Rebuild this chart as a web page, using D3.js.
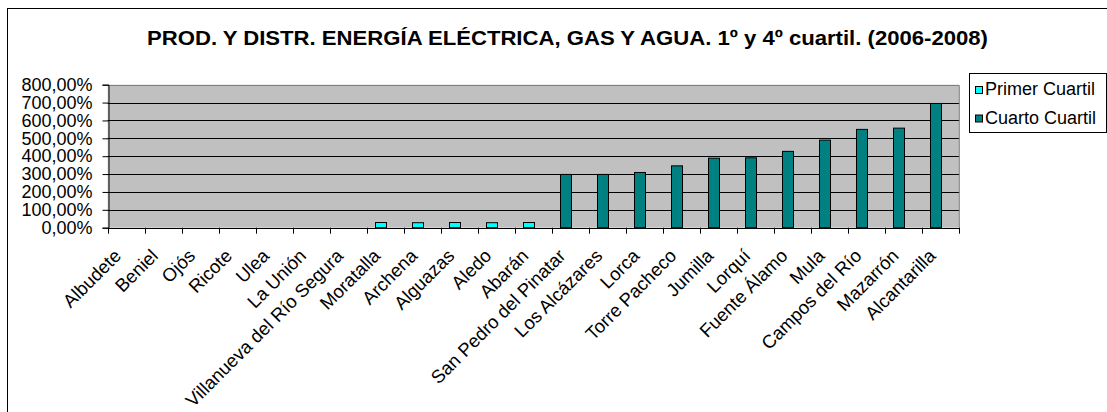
<!DOCTYPE html>
<html>
<head>
<meta charset="utf-8">
<script src="https://cdn.jsdelivr.net/npm/d3@7"></script>
<style>
  body { margin: 0; background: #fff; }
  text { font-family: "Liberation Sans", Arial, sans-serif; fill: #000; }
</style>
</head>
<body>
<script>
// chart data
const categories = ['Albudete', 'Beniel', 'Ojós', 'Ricote', 'Ulea', 'La Unión',
  'Villanueva del Río Segura', 'Moratalla', 'Archena', 'Alguazas', 'Aledo', 'Abarán',
  'San Pedro del Pinatar', 'Los Alcázares', 'Lorca', 'Torre Pacheco', 'Jumilla',
  'Lorquí', 'Fuente Álamo', 'Mula', 'Campos del Río', 'Mazarrón', 'Alcantarilla'];
const seriesNames = ['Primer Cuartil', 'Cuarto Cuartil'];
const primerCuartil = [null, null, null, null, null, null, null,
  0.29, 0.28, 0.29, 0.28, 0.29,
  null, null, null, null, null, null, null, null, null, null, null];
const cuartoCuartil = [null, null, null, null, null, null, null,
  null, null, null, null, null,
  2.98, 2.98, 3.09, 3.46, 3.89, 3.91, 4.27, 4.90, 5.50, 5.57, 6.95];
const yTicks = [0, 1, 2, 3, 4, 5, 6, 7, 8];
const title = 'PROD. Y DISTR. ENERGÍA ELÉCTRICA, GAS Y AGUA. 1º y 4º cuartil. (2006-2008)';

const width = 1107;
const height = 412;
const colors = { 'Primer Cuartil': '#00ffff', 'Cuarto Cuartil': '#008080' };

const svg = d3.select('body')
  .append('svg')
  .attr('width', width)
  .attr('height', height);

// outer chart border
svg.append('rect')
  .attr('x', 7.5).attr('y', 8.5)
  .attr('width', 1200).attr('height', 500)
  .attr('fill', '#fff')
  .attr('stroke', '#000');

// title
svg.append('text')
  .attr('x', 147).attr('y', 45)
  .attr('textLength', 841)
  .attr('lengthAdjust', 'spacingAndGlyphs')
  .style('font-size', '20px')
  .style('font-weight', 'bold')
  .text(title);

// scales
const x = d3.scaleBand()
  .domain(categories)
  .range([107.7, 959.3])
  .padding(0);

const xSub = d3.scaleBand()
  .domain(seriesNames)
  .range([0, x.bandwidth()])
  .paddingInner(0)
  .paddingOuter(0.75);

const y = d3.scaleLinear()
  .domain([0, 8])
  .range([227.7, 84.7]);

// plot background
svg.append('rect')
  .attr('x', x.range()[0]).attr('y', y(8))
  .attr('width', x.range()[1] - x.range()[0])
  .attr('height', y(0) - y(8))
  .attr('fill', '#c0c0c0');

// gridlines
svg.append('g')
  .selectAll('line')
  .data(yTicks.filter(d => d > 0 && d < 8))
  .enter()
  .append('line')
  .attr('x1', x.range()[0]).attr('x2', x.range()[1])
  .attr('y1', d => Math.round(y(d)) + 0.5)
  .attr('y2', d => Math.round(y(d)) + 0.5)
  .attr('stroke', '#000');

// top and right border of the plot
svg.append('path')
  .attr('d', `M${x.range()[0]},${Math.round(y(8)) + 0.5}H${x.range()[1]}V${y(0)}`)
  .attr('fill', 'none')
  .attr('stroke', '#808080');

// bars (both series sit in the first slot of each category, as in the original)
const barData = [];
categories.forEach((c, i) => {
  if (primerCuartil[i] != null) barData.push({ cat: c, series: 'Primer Cuartil', value: primerCuartil[i] });
  if (cuartoCuartil[i] != null) barData.push({ cat: c, series: 'Cuarto Cuartil', value: cuartoCuartil[i] });
});

svg.append('g')
  .selectAll('rect')
  .data(barData)
  .enter()
  .append('rect')
  .attr('x', d => Math.round(x(d.cat) + xSub(seriesNames[0])) + 0.5)
  .attr('y', d => y(d.value))
  .attr('width', Math.round(xSub.bandwidth()))
  .attr('height', d => y(0) - y(d.value))
  .attr('fill', d => colors[d.series])
  .attr('stroke', '#000')
  .attr('stroke-width', 1);

// y axis
const yAxis = svg.append('g')
  .attr('transform', `translate(${Math.round(x.range()[0]) + 0.5},0)`)
  .call(d3.axisLeft(y)
    .tickValues(yTicks)
    .tickSize(6)
    .tickPadding(10)
    .tickFormat(d => d3.format('.2f')(d * 100).replace('.', ',') + '%'));
yAxis.select('.domain').attr('stroke', '#000');
yAxis.selectAll('.tick line').attr('stroke', '#000');
yAxis.selectAll('text')
  .style('font-size', '18px')
  .style('font-family', '"Liberation Sans", Arial, sans-serif')
  .attr('fill', '#000');

// x axis line
svg.append('line')
  .attr('x1', x.range()[0]).attr('x2', x.range()[1])
  .attr('y1', Math.round(y(0)) + 0.5).attr('y2', Math.round(y(0)) + 0.5)
  .attr('stroke', '#000');

// x ticks at category boundaries
svg.append('g')
  .selectAll('line')
  .data(categories.map(c => x(c)).concat([x.range()[1]]))
  .enter()
  .append('line')
  .attr('x1', d => Math.round(d) + 0.5).attr('x2', d => Math.round(d) + 0.5)
  .attr('y1', y(0)).attr('y2', y(0) + 6)
  .attr('stroke', '#000');

// x labels, rotated
svg.append('g')
  .selectAll('text')
  .data(categories)
  .enter()
  .append('text')
  .attr('transform', d => `translate(${x(d) + x.bandwidth() / 2 - 4},257) rotate(-45)`)
  .attr('text-anchor', 'end')
  .style('font-size', '18.5px')
  .text(d => d);

// legend
const legend = svg.append('g');
legend.append('rect')
  .attr('x', 969.5).attr('y', 73.5)
  .attr('width', 137).attr('height', 59)
  .attr('fill', '#fff')
  .attr('stroke', '#000');

const items = legend.selectAll('g.item')
  .data(seriesNames)
  .enter()
  .append('g')
  .attr('class', 'item')
  .attr('transform', (d, i) => `translate(0,${i * 28.5})`);

items.append('rect')
  .attr('x', 975.5).attr('y', 86.5)
  .attr('width', 7).attr('height', 7)
  .attr('fill', d => colors[d])
  .attr('stroke', '#000');

items.append('text')
  .attr('x', 985).attr('y', 95)
  .style('font-size', '18px')
  .text(d => d);
</script>
</body>
</html>
